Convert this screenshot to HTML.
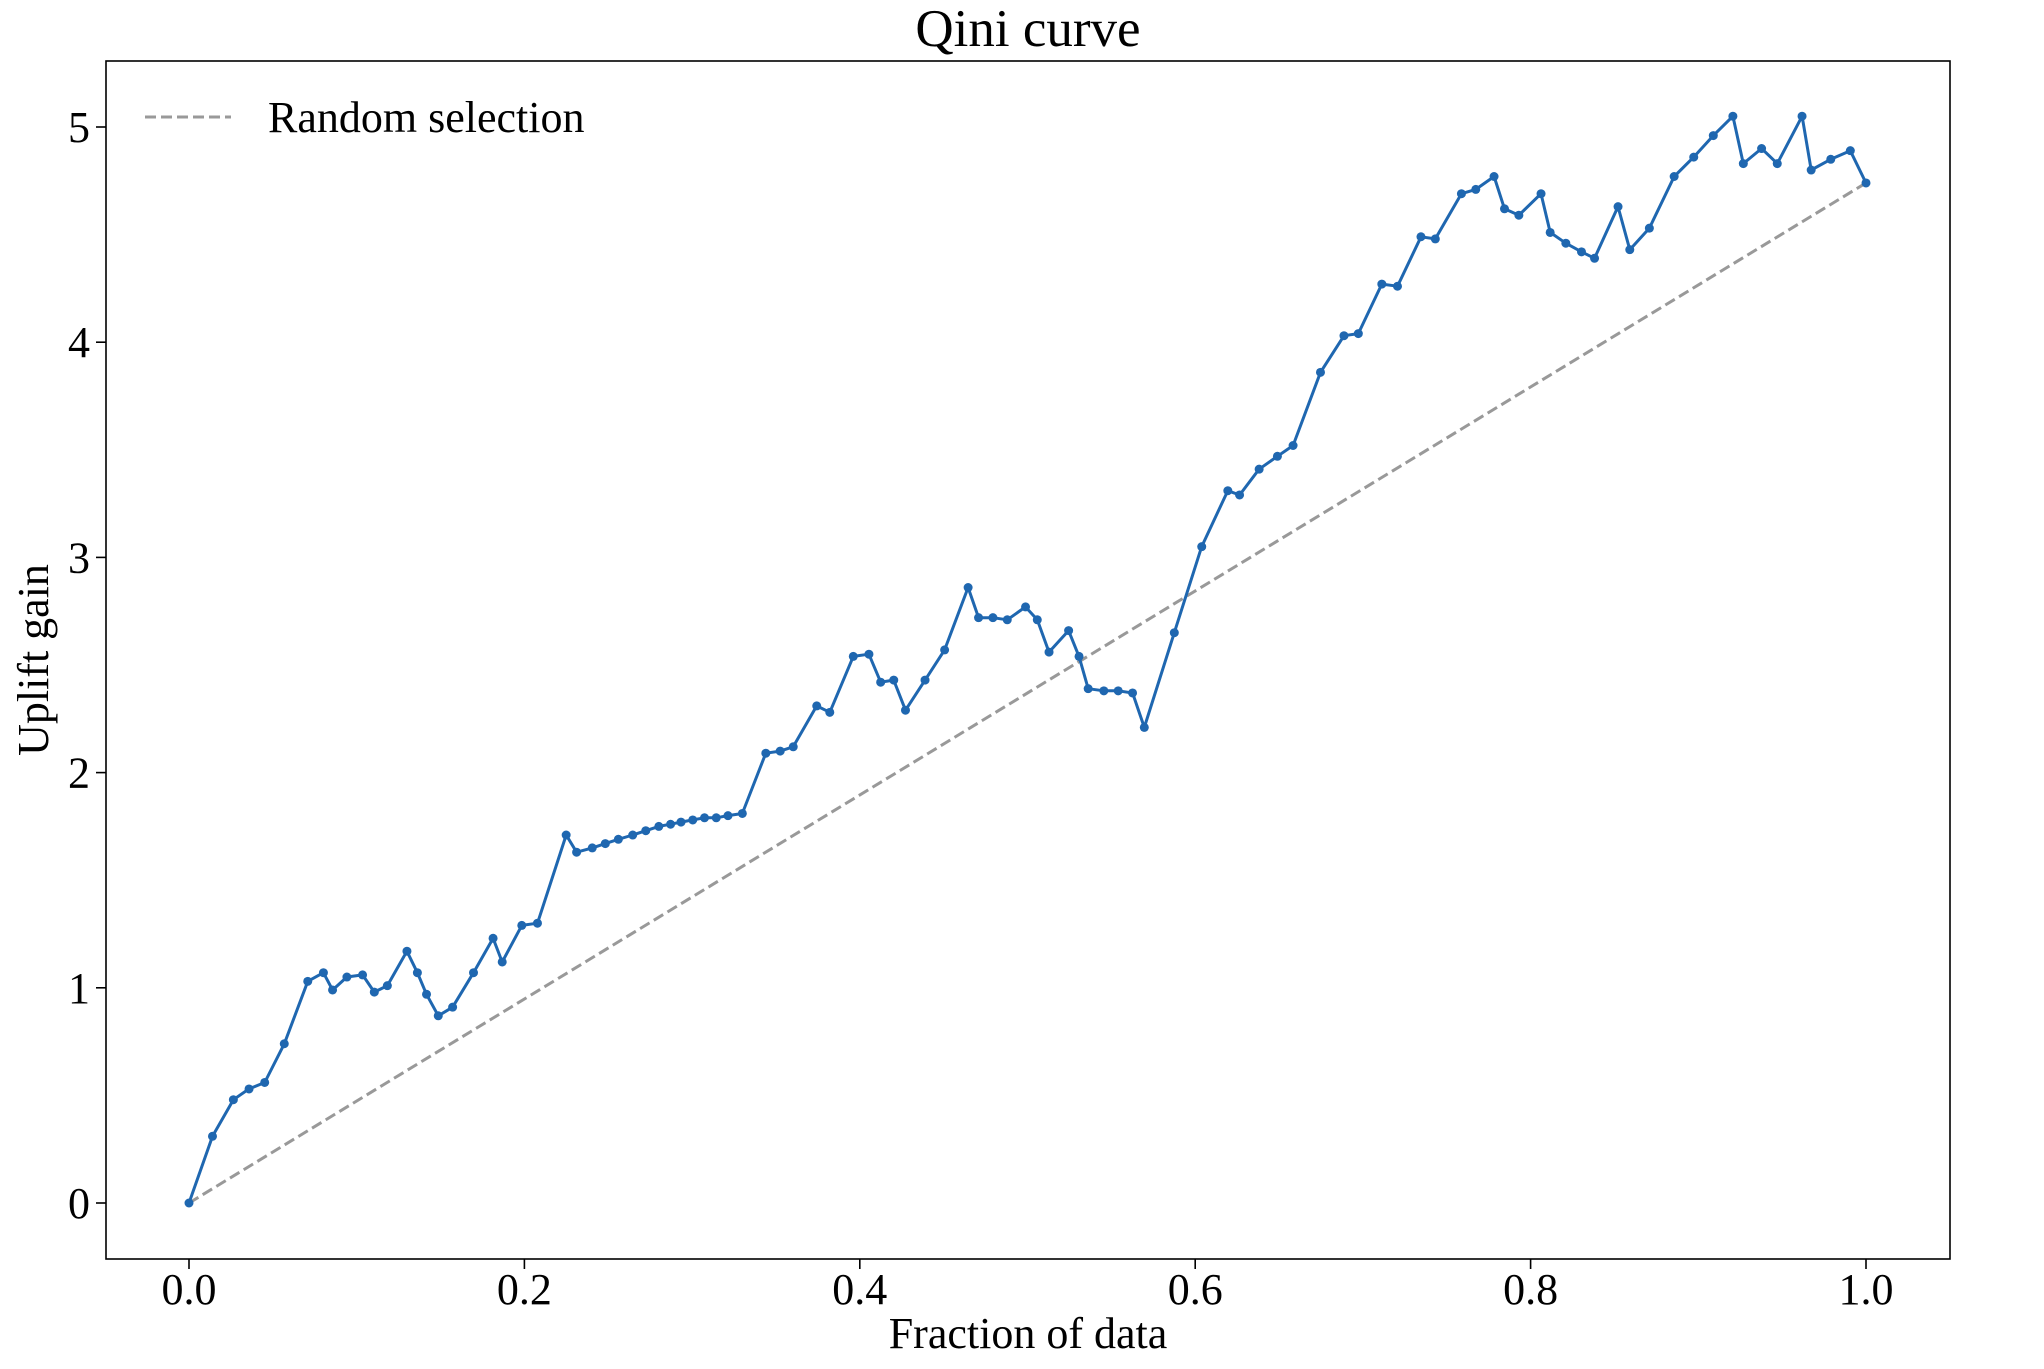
<!DOCTYPE html>
<html><head><meta charset="utf-8"><style>
html,body{margin:0;padding:0;background:#fff;}
svg text{font-family:"Liberation Serif",serif;fill:#000;}
</style></head><body>
<svg id="chart" width="2044" height="1364" xmlns="http://www.w3.org/2000/svg">
<text x="1028" y="46" font-size="53" text-anchor="middle">Qini curve</text>
<rect x="106" y="61" width="1844" height="1198" fill="none" stroke="#000" stroke-width="1.6"/>
<g id="xticks"></g>
<g id="yticks"></g>
<text x="1028" y="1348" font-size="44" text-anchor="middle">Fraction of data</text>
<text transform="translate(48,660) rotate(-90)" font-size="44" text-anchor="middle">Uplift gain</text>
<g id="series"></g>
<g>
<line x1="145" y1="117" x2="231" y2="117" stroke="#999" stroke-width="3" stroke-dasharray="11,5"/>
<text x="268" y="132" font-size="44">Random selection</text>
</g>
</svg>
<script>
const xPix = [145,163,179,191,203,218,236,248,255,266,278,287,297,312,320,327,336,347,363,378,385,400,412,434,442,454,464,474,485,495,505,514,522,531,540,549,558,569,587,598,608,626,636,654,666,675,685,694,709,724,742,750,761,772,786,795,804,819,827,834,846,857,868,877,900,921,941,950,965,979,991,1012,1030,1041,1059,1071,1089,1100,1120,1131,1145,1153,1164,1181,1188,1200,1212,1222,1240,1249,1264,1283,1298,1313,1328,1336,1350,1362,1381,1388,1403,1418,1430];
const fractions = xPix.map(p => (p - 145) / 1285);
const gains = [0,0.31,0.48,0.53,0.56,0.74,1.03,1.07,0.99,1.05,1.06,0.98,1.01,1.17,1.07,0.97,0.87,0.91,1.07,1.23,1.12,1.29,1.30,1.71,1.63,1.65,1.67,1.69,1.71,1.73,1.75,1.76,1.77,1.78,1.79,1.79,1.80,1.81,2.09,2.10,2.12,2.31,2.28,2.54,2.55,2.42,2.43,2.29,2.43,2.57,2.86,2.72,2.72,2.71,2.77,2.71,2.56,2.66,2.54,2.39,2.38,2.38,2.37,2.21,2.65,3.05,3.31,3.29,3.41,3.47,3.52,3.86,4.03,4.04,4.27,4.26,4.49,4.48,4.69,4.71,4.77,4.62,4.59,4.69,4.51,4.46,4.42,4.39,4.63,4.43,4.53,4.77,4.86,4.96,5.05,4.83,4.90,4.83,5.05,4.80,4.85,4.89,4.74];
const randomEnd = [0, 4.74];
const xTicks = [0,0.2,0.4,0.6,0.8,1.0];
const xTickLabels = ["0.0","0.2","0.4","0.6","0.8","1.0"];
const yTicks = [0,1,2,3,4,5];
const yTickLabels = ["0","1","2","3","4","5"];

const NS = "http://www.w3.org/2000/svg";
const X = v => 189 + v * 1677;
const Y = v => 1203 - v * 215.2;
function mk(tag, attrs, parent){const e=document.createElementNS(NS,tag);for(const k in attrs)e.setAttribute(k,attrs[k]);parent.appendChild(e);return e;}

const gx = document.getElementById('xticks');
xTicks.forEach((t,i)=>{
  const l = mk('line',{x1:X(t),x2:X(t),y1:1259,y2:1269,stroke:'#000','stroke-width':1.6},gx);
  
  
  const tx = mk('text',{x:X(t),y:1304,'font-size':44,'text-anchor':'middle'},gx);
  tx.textContent = xTickLabels[i];
  
  
});
const gy = document.getElementById('yticks');
yTicks.forEach((t,i)=>{
  const l = mk('line',{x1:96,x2:106,y1:Y(t),y2:Y(t),stroke:'#000','stroke-width':1.6},gy);
  
  
  const tx = mk('text',{x:90,y:Y(t)+15,'font-size':44,'text-anchor':'end'},gy);
  tx.textContent = yTickLabels[i];
  
  
});
const gs = document.getElementById('series');
const rnd = mk('line',{x1:X(0),y1:Y(randomEnd[0]),x2:X(1),y2:Y(randomEnd[1]),stroke:'#999','stroke-width':3,'stroke-dasharray':'11,5'},gs);


const pts = fractions.map((f,i)=>X(f).toFixed(1)+','+Y(gains[i]).toFixed(1)).join(' ');
const pl = mk('polyline',{points:pts,fill:'none',stroke:'#1f67b0','stroke-width':3,'stroke-linejoin':'round'},gs);


fractions.forEach((f,i)=>{
  const c = mk('circle',{cx:X(f),cy:Y(gains[i]),r:4.5,fill:'#1f67b0'},gs);
  
  
});
</script>
</body></html>
